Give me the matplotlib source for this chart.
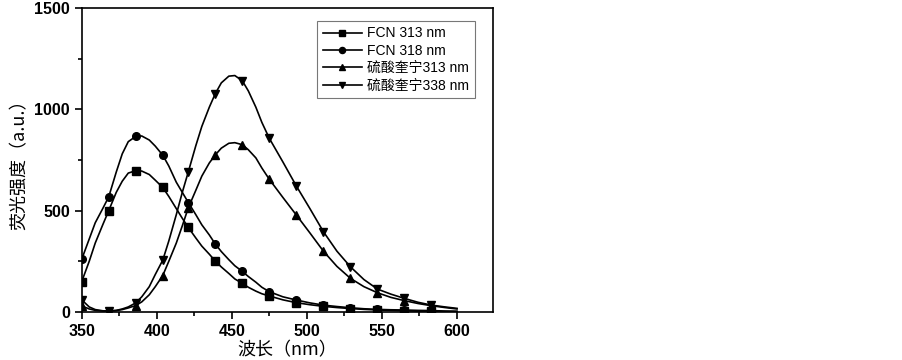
import matplotlib.pyplot as plt
from matplotlib.ticker import MultipleLocator

plt.rcParams['font.family'] = ['Liberation Sans', 'Noto Sans CJK SC', 'DejaVu Sans']

# wavelength (nm)
wl = [350, 355, 359, 364, 368, 373, 377, 381, 386, 390, 395, 399, 404, 408, 413,
      417, 421, 426, 430, 435, 439, 443, 448, 452, 457, 461, 466, 470, 475,
      484, 493, 502, 511, 520, 529, 538, 547, 556, 565, 574, 583, 592, 600]
# wavelengths carrying a marker symbol
mark_wl = [350, 368, 386, 404, 421, 439, 457, 475, 493, 511, 529, 547, 565, 583]

fcn_313 = [150, 250, 340, 430, 500, 590, 645, 685, 697, 695, 678, 650, 614, 570, 510,
           462, 417, 365, 325, 285, 251, 222, 190, 163, 141, 122, 103, 90, 79,
           60, 46, 36, 28, 22, 17, 13, 10, 8, 6, 4, 3, 2, 2]
fcn_318 = [260, 360, 440, 510, 568, 690, 780, 840, 866, 868, 848, 818, 773, 720, 640,
           590, 540, 480, 430, 380, 335, 298, 258, 228, 200, 175, 147, 122, 100,
           75, 59, 45, 34, 27, 21, 16, 13, 11, 10, 8, 7, 5, 4]
qs_313 = [30, 15, 8, 5, 5, 7, 12, 20, 32, 50, 85, 125, 180, 250, 340,
          425, 514, 600, 670, 735, 775, 808, 832, 835, 825, 800, 760, 710, 654,
          565, 478, 390, 300, 225, 166, 125, 95, 72, 56, 42, 31, 22, 15]
qs_338 = [60, 25, 12, 6, 5, 8, 15, 25, 45, 75, 125, 185, 256, 350, 480,
          590, 691, 820, 915, 1010, 1077, 1130, 1163, 1166, 1140, 1090, 1010, 935, 856,
          740, 621, 510, 396, 300, 223, 160, 113, 88, 67, 48, 34, 25, 18]

labels = ['FCN 313 nm', 'FCN 318 nm', '硫酸奎宁313 nm', '硫酸奎宁338 nm']
markers = ['s', 'o', '^', 'v']
mark_idx = [wl.index(w) for w in mark_wl]

fig = plt.figure(figsize=(9.03, 3.6), dpi=100)
ax = fig.add_axes([0.0905, 0.1333, 0.4555, 0.845])

for ys, lab, m in zip([fcn_313, fcn_318, qs_313, qs_338], labels, markers):
    ax.plot(wl, ys, color='black', lw=1.2, marker=m, markersize=5.5,
            markevery=mark_idx, label=lab)

ax.set_xlim(350, 624)
ax.set_ylim(0, 1500)
ax.xaxis.set_major_locator(MultipleLocator(50))
ax.xaxis.set_minor_locator(MultipleLocator(25))
ax.yaxis.set_major_locator(MultipleLocator(500))
ax.yaxis.set_minor_locator(MultipleLocator(250))
ax.tick_params(which='both', direction='out', top=False, right=False, width=1.2)
ax.tick_params(which='major', length=5, labelsize=11.5)
ax.tick_params(which='minor', length=3)
for lab in ax.get_xticklabels() + ax.get_yticklabels():
    lab.set_fontweight('bold')
for s in ax.spines.values():
    s.set_linewidth(1.2)

ax.set_xlabel('波长（nm）', fontsize=13, labelpad=2,
              family=['Noto Sans CJK SC', 'DejaVu Sans'])
ax.set_ylabel('荧光强度（a.u.）', fontsize=13, labelpad=4,
              family=['Noto Sans CJK SC', 'DejaVu Sans'])

leg = ax.legend(loc='upper right', bbox_to_anchor=(0.973, 0.98), fontsize=10,
                fancybox=False, edgecolor='#555555', handlelength=2.8,
                markerscale=0.8, borderpad=0.4, labelspacing=0.25,
                handletextpad=0.4)
leg.get_frame().set_linewidth(0.8)

fig.savefig('out.png', dpi=100)
